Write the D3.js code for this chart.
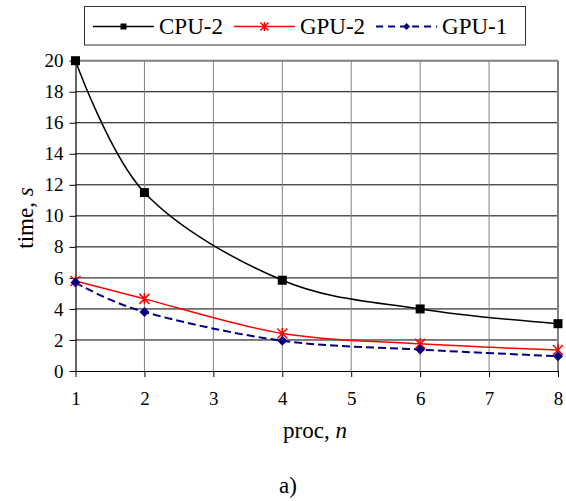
<!DOCTYPE html>
<html>
<head>
<meta charset="utf-8">
<script src="https://cdn.jsdelivr.net/npm/d3@7"></script>
<style>
  html, body { margin: 0; padding: 0; background: #fff; }
  svg { display: block; font-family: "Liberation Serif", "Times New Roman", serif; }
</style>
</head>
<body>
<svg id="chart" width="566" height="501"></svg>
<script>
// Processor counts and measured run times (seconds)
const procs = [1, 2, 4, 6, 8];
const cpu2 = [20, 11.5, 5.85, 4.0, 3.05];
const gpu2 = [5.8, 4.65, 2.42, 1.75, 1.35];
const gpu1 = [5.7, 3.8, 1.95, 1.38, 0.95];
const xTicks = [1, 2, 3, 4, 5, 6, 7, 8];
const yTicks = [0, 2, 4, 6, 8, 10, 12, 14, 16, 18, 20];
const seriesNames = ["CPU-2", "GPU-2", "GPU-1"];

const FONT = "'Liberation Serif', 'Times New Roman', serif";
const svg = d3.select("#chart");
const W = 566, H = 501;
svg.append("rect").attr("width", W).attr("height", H).attr("fill", "#fff");

const x = d3.scaleLinear().domain([1, 8]).range([75.5, 558]);
const y = d3.scaleLinear().domain([0, 20]).range([371, 60.7]);

const series = [
  { name: seriesNames[0], values: cpu2, color: "#000", width: 1.5, dash: null, marker: "square" },
  { name: seriesNames[1], values: gpu2, color: "#ff0000", width: 1.5, dash: null, marker: "star" },
  { name: seriesNames[2], values: gpu1, color: "#000080", width: 2, dash: "8,4", marker: "diamond" }
];

// Grid: black horizontal lines, grey vertical lines
const grid = svg.append("g");
grid.selectAll("line.h").data(yTicks.filter(d => d > 0 && d < 20)).join("line")
  .attr("x1", x(1)).attr("x2", x(8))
  .attr("y1", d => y(d)).attr("y2", d => y(d))
  .attr("stroke", "#000").attr("stroke-width", 1);
grid.selectAll("line.v").data(xTicks.filter(d => d > 1 && d < 8)).join("line")
  .attr("x1", d => x(d)).attr("x2", d => x(d))
  .attr("y1", y(20)).attr("y2", y(0))
  .attr("stroke", "#808080").attr("stroke-width", 1);
// Top and right frame
grid.append("line").attr("x1", x(1)).attr("x2", x(8)).attr("y1", y(20)).attr("y2", y(20))
  .attr("stroke", "#808080").attr("stroke-width", 2);
grid.append("line").attr("x1", x(8)).attr("x2", x(8)).attr("y1", y(20)).attr("y2", y(0))
  .attr("stroke", "#808080").attr("stroke-width", 2);

// Axes
const yAxis = d3.axisLeft(y).tickValues(yTicks).tickFormat(d3.format("d"))
  .tickSize(6).tickSizeOuter(0).tickPadding(6);
const xAxis = d3.axisBottom(x).tickValues(xTicks).tickFormat(d3.format("d"))
  .tickSize(6).tickSizeOuter(0).tickPadding(15);

const gy = svg.append("g").attr("transform", `translate(${x(1)},0)`).call(yAxis);
const gx = svg.append("g").attr("transform", `translate(0,${y(0)})`).call(xAxis);
[gx, gy].forEach(g => {
  g.attr("font-family", FONT).attr("font-size", 19);
  g.select(".domain").attr("stroke", "#000").attr("stroke-width", 1.2);
  g.selectAll(".tick line").attr("stroke", "#000").attr("stroke-width", 1);
  g.selectAll(".tick text").attr("fill", "#000");
});

// Axis titles
const yTitle = svg.append("text")
  .attr("transform", `translate(33,218) rotate(-90)`)
  .attr("text-anchor", "middle")
  .style("font-size", "23px");
yTitle.append("tspan").text("time, ");
yTitle.append("tspan").attr("font-style", "italic").text("s");

const xTitle = svg.append("text")
  .attr("x", 315).attr("y", 438)
  .attr("text-anchor", "middle")
  .style("font-size", "23px");
xTitle.append("tspan").text("proc, ");
xTitle.append("tspan").attr("font-style", "italic").text("n");

svg.append("text")
  .attr("x", 288).attr("y", 493)
  .attr("text-anchor", "middle")
  .style("font-size", "23px")
  .text("a)");

// Marker shapes
function drawMarker(g, type, cx, cy, s, color) {
  if (type === "square") {
    g.append("rect").attr("x", cx - s / 2).attr("y", cy - s / 2)
      .attr("width", s).attr("height", s).attr("fill", color);
  } else if (type === "star") {
    const r = s / 2;
    g.append("path")
      .attr("d", `M${cx - r},${cy - r}L${cx + r},${cy + r}M${cx - r},${cy + r}L${cx + r},${cy - r}M${cx},${cy - r - 0.5}L${cx},${cy + r + 0.5}`)
      .attr("stroke", color).attr("stroke-width", 1.5).attr("fill", "none");
  } else if (type === "diamond") {
    const r = s / 2;
    g.append("path")
      .attr("d", `M${cx},${cy - r}L${cx + r},${cy}L${cx},${cy + r}L${cx - r},${cy}Z`)
      .attr("fill", color);
  }
}

// Smoothed lines through the measured points, then markers on top
const line = d3.line()
  .x((d, i) => x(procs[i]))
  .y(d => y(d))
  .curve(d3.curveCardinal.tension(0));

const plot = svg.append("g");
series.forEach(s => {
  plot.append("path")
    .attr("d", line(s.values))
    .attr("fill", "none")
    .attr("stroke", s.color)
    .attr("stroke-width", s.width)
    .attr("stroke-dasharray", s.dash);
});
series.forEach(s => {
  const g = plot.append("g");
  const size = s.marker === "square" ? 9 : (s.marker === "star" ? 10 : 10);
  s.values.forEach((v, i) => drawMarker(g, s.marker, x(procs[i]), y(v), size, s.color));
});

// Legend
const legend = svg.append("g");
legend.append("rect")
  .attr("x", 84.5).attr("y", 6.5).attr("width", 441).attr("height", 38.5)
  .attr("fill", "#fff").attr("stroke", "#333").attr("stroke-width", 1);
let lx = 93;
const ly = 26.5;
series.forEach(s => {
  const g = legend.append("g");
  g.append("line").attr("x1", lx).attr("x2", lx + 61).attr("y1", ly).attr("y2", ly)
    .attr("stroke", s.color).attr("stroke-width", s.width)
    .attr("stroke-dasharray", s.dash ? "7,5" : null);
  const msize = s.marker === "square" ? 6 : (s.marker === "star" ? 8 : 7);
  drawMarker(g, s.marker, lx + 30.5, ly, msize, s.color);
  const t = g.append("text").attr("x", lx + 66).attr("y", 33.5)
    .style("font-size", "23px").attr("fill", "#000").text(s.name);
  lx = lx + 66 + t.node().getComputedTextLength() + 11;
});
</script>
</body>
</html>
